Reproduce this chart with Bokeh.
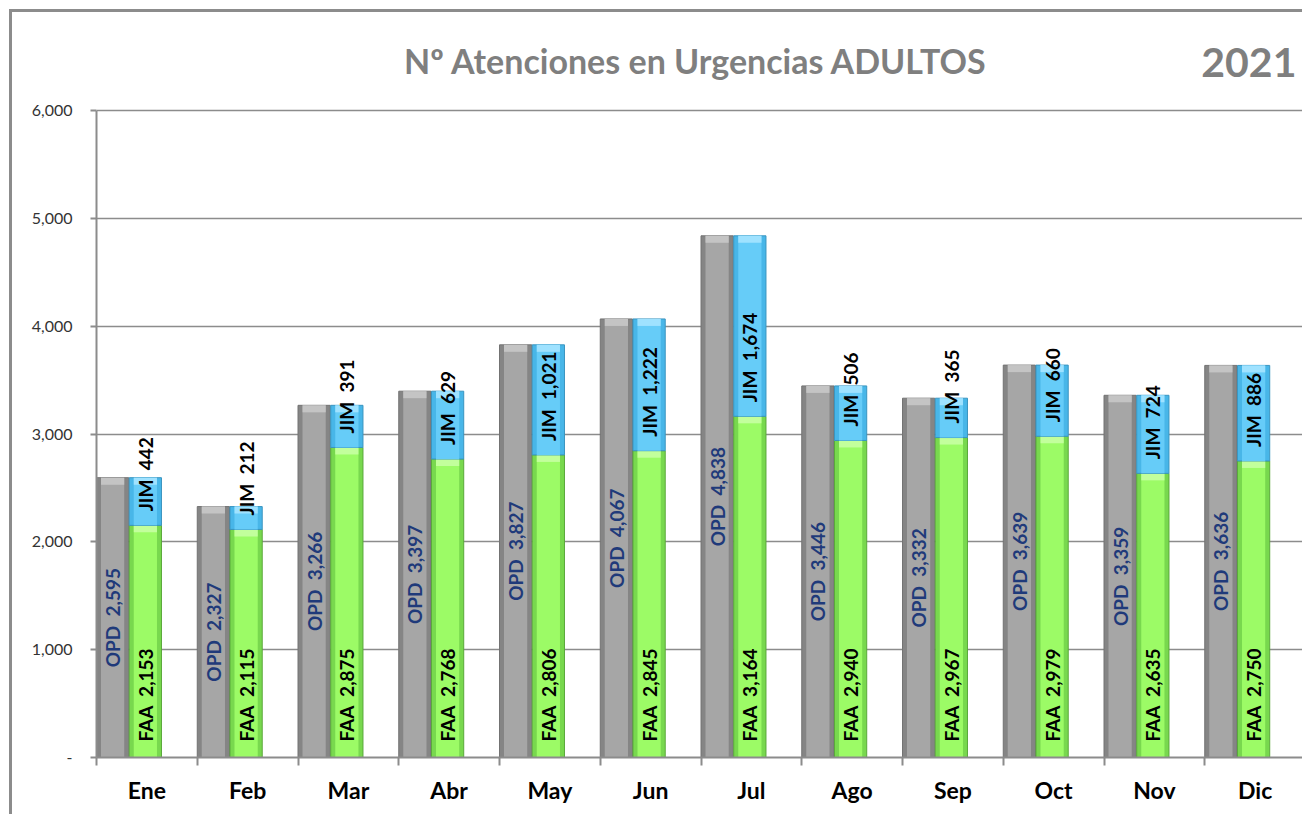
import numpy as np
from bokeh.plotting import figure
from bokeh.models import (ColumnDataSource, Range1d, FixedTicker, NumeralTickFormatter, Label)
from bokeh.core.properties import value
from bokeh.embed import file_html
from bokeh.resources import INLINE

# ---------------- data ----------------
months = ["Ene", "Feb", "Mar", "Abr", "May", "Jun", "Jul", "Ago", "Sep", "Oct", "Nov", "Dic"]
opd = [2595, 2327, 3266, 3397, 3827, 4067, 4838, 3446, 3332, 3639, 3359, 3636]
faa = [2153, 2115, 2875, 2768, 2806, 2845, 3164, 2940, 2967, 2979, 2635, 2750]
jim = [442, 212, 391, 629, 1021, 1222, 1674, 506, 365, 660, 724, 886]
y_ticks = [0, 1000, 2000, 3000, 4000, 5000, 6000]
title_text = "Nº Atenciones en Urgencias ADULTOS"
year_text = "2021"

# ---------------- layout constants (pixels) ----------------
FRAME_TOP_PX = 12       # top of the plotting frame (chart area incl. title)
AXIS_TOP_PX = 110       # where the 6,000 gridline sits
ZERO_PX = 757           # where the 0 line sits
Y_AXIS_MAX = 6000
Y_RANGE_MAX = Y_AXIS_MAX * (ZERO_PX - FRAME_TOP_PX) / (ZERO_PX - AXIS_TOP_PX)
PX = Y_AXIS_MAX / (ZERO_PX - AXIS_TOP_PX)   # data units per pixel

# ---------------- derived ----------------
idx = np.arange(len(months))
faa_a = np.array(faa)
jim_a = np.array(jim)
opd_a = np.array(opd)
stk_a = faa_a + jim_a
BAR_W = 0.32
BEVEL = 7 * PX
SP = "\u00a0 "

src = ColumnDataSource(dict(
    x_opd=idx + 0.16,
    x_stk=idx + 0.485,
    opd=opd_a,
    faa=faa_a,
    stk_top=stk_a,
    zero=np.zeros(len(months)),
    opd_bev=opd_a - BEVEL,
    faa_bev=faa_a - BEVEL,
    stk_bev=stk_a - BEVEL,
    opd_y=opd_a / 2.0,
    faa_y=np.zeros(len(months)) + 16 * PX,
    jim_y=faa_a + 14 * PX,
    opd_lbl=[f"OPD{SP}{v:,}" for v in opd],
    faa_lbl=[f"FAA{SP}{v:,}" for v in faa],
    jim_lbl=[f"JIM{SP}{v:,}" for v in jim],
))

FONT = "Lato"
GRID = "#8c8c8c"

p = figure(width=1293, height=805, x_range=Range1d(0, 12), y_range=Range1d(0, Y_RANGE_MAX),
           output_backend="svg", toolbar_location=None,
           min_border_left=84, min_border_right=0, min_border_top=0,
           min_border_bottom=805 - (ZERO_PX - FRAME_TOP_PX),
           outline_line_color=None, background_fill_color="white", border_fill_color="white")
p.styles = {"border-left": "3px solid #8c8c8c", "border-top": "3px solid #8c8c8c",
            "margin-left": "9px", "margin-top": "9px"}

# grid
p.xgrid.visible = False
p.ygrid.grid_line_color = GRID
p.ygrid.grid_line_width = 1.5
p.ygrid.ticker = FixedTicker(ticks=y_ticks)

# bars: OPD (gray) with inner highlight and top bevel
p.vbar(x="x_opd", width=BAR_W, bottom="zero", top="opd", source=src,
       fill_color="#858585", line_color="#737373", line_width=1)
p.vbar(x="x_opd", width=BAR_W * 0.72, bottom="zero", top="opd", source=src,
       fill_color="#a6a6a6", line_color=None)
p.vbar(x="x_opd", width=BAR_W * 0.72, bottom="opd_bev", top="opd", source=src,
       fill_color="#c4c4c4", line_color=None)
# FAA (green)
p.vbar(x="x_stk", width=BAR_W, bottom="zero", top="faa", source=src,
       fill_color="#78d84e", line_color="#5aa83a", line_width=1)
p.vbar(x="x_stk", width=BAR_W * 0.72, bottom="zero", top="faa", source=src,
       fill_color="#9cfb66", line_color=None)
p.vbar(x="x_stk", width=BAR_W * 0.72, bottom="faa_bev", top="faa", source=src,
       fill_color="#c2ff9c", line_color=None)
# JIM (blue)
p.vbar(x="x_stk", width=BAR_W, bottom="faa", top="stk_top", source=src,
       fill_color="#48b6e8", line_color="#3a95c0", line_width=1)
p.vbar(x="x_stk", width=BAR_W * 0.72, bottom="faa", top="stk_top", source=src,
       fill_color="#66ccf8", line_color=None)
p.vbar(x="x_stk", width=BAR_W * 0.72, bottom="stk_bev", top="stk_top", source=src,
       fill_color="#9fe2ff", line_color=None)

# labels
ang = np.pi / 2
LBL_SIZE = "19px"
p.text(x="x_opd", y="opd_y", text="opd_lbl", angle=ang, text_align="center",
       text_baseline="middle", text_font=value(FONT), text_font_style="bold",
       text_font_size=LBL_SIZE, text_color="#1f3a7a", source=src)
p.text(x="x_stk", y="faa_y", text="faa_lbl", angle=ang, text_align="left",
       text_baseline="middle", text_font=value(FONT), text_font_style="bold",
       text_font_size=LBL_SIZE, text_color="#000000", source=src)
p.text(x="x_stk", y="jim_y", text="jim_lbl", angle=ang, text_align="left",
       text_baseline="middle", text_font=value(FONT), text_font_style="bold",
       text_font_size=LBL_SIZE, text_color="#000000", source=src)

# x axis
xa = p.xaxis[0]
xa.ticker = FixedTicker(ticks=list(idx + 0.5), minor_ticks=list(range(len(months) + 1)))
xa.major_label_overrides = {float(i + 0.5): m for i, m in enumerate(months)}
xa.major_tick_in = 0
xa.major_tick_out = 0
xa.minor_tick_in = 0
xa.minor_tick_out = 8
xa.minor_tick_line_color = GRID
xa.minor_tick_line_width = 2
xa.axis_line_color = GRID
xa.axis_line_width = 2
xa.major_label_text_font = FONT
xa.major_label_text_font_style = "bold"
xa.major_label_text_font_size = "23px"
xa.major_label_text_color = "#000000"
xa.major_label_standoff = 10

# y axis
ya = p.yaxis[0]
ya.bounds = (0, Y_AXIS_MAX)
ya.ticker = FixedTicker(ticks=y_ticks, minor_ticks=[])
ya.formatter = NumeralTickFormatter(format="0,0")
ya.major_label_overrides = {0: "-"}
ya.major_tick_in = 0
ya.major_tick_out = 6
ya.major_tick_line_color = GRID
ya.major_tick_line_width = 2
ya.axis_line_color = GRID
ya.axis_line_width = 2
ya.major_label_text_font = FONT
ya.major_label_text_font_size = "16px"
ya.major_label_text_color = "#333333"
ya.major_label_standoff = 18

# titles (inside the frame, above the 6,000 line)
p.add_layout(Label(x=5.95, y=(ZERO_PX - 60) * PX, text=title_text, text_align="center",
                   text_baseline="middle", text_font=FONT, text_font_style="bold",
                   text_font_size="34px", text_color="#7f7f7f"))
p.add_layout(Label(x=11.91, y=(ZERO_PX - 62) * PX, text=year_text, text_align="right",
                   text_baseline="middle", text_font=FONT, text_font_style="bold",
                   text_font_size="41px", text_color="#7f7f7f"))

open("out.html", "w").write(file_html(p, INLINE))
